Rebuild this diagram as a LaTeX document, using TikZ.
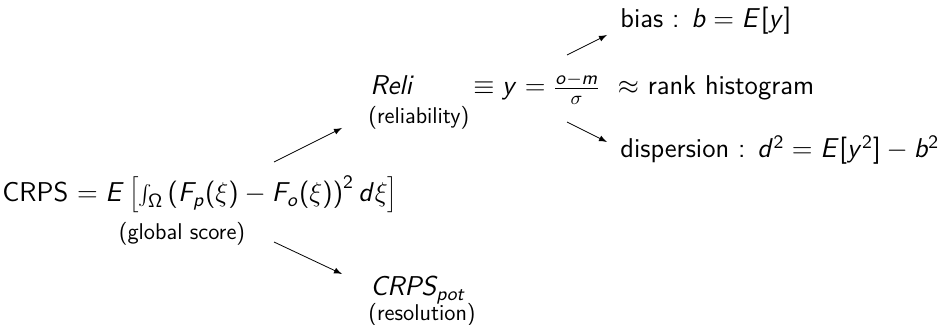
\RequirePackage{fix-cm}
\documentclass[tikz,border=0pt]{standalone}
% lettres mathematiques en sans serif (comme beamer)
\DeclareSymbolFont{sfletters}{OT1}{cmss}{m}{sl}
\SetSymbolFont{operators}{normal}{OT1}{cmss}{m}{n}
\newcount\mc
\mc=`a
\loop
  \mathcode\mc=\numexpr "7000+\symsfletters*"100+\mc\relax
  \advance\mc by 1
\ifnum\mc<\numexpr`z+1\relax\repeat
\mc=`A
\loop
  \mathcode\mc=\numexpr "7000+\symsfletters*"100+\mc\relax
  \advance\mc by 1
\ifnum\mc<\numexpr`Z+1\relax\repeat
\begin{document}
\begin{tikzpicture}[x=0.5pt,y=-0.5pt,>=latex,
  txt/.style={inner sep=0pt,anchor=base west,font=\fontsize{13.6}{16}\selectfont\sffamily},
  lab/.style={inner sep=0pt,anchor=base west,font=\fontsize{11.4}{13}\selectfont\sffamily}]
  \useasboundingbox (0,0) rectangle (941,325);
  % score global
  \node[txt] (crps) at (2,202) {CRPS $= E\left[\int_\Omega \left(F_p(\xi)-F_o(\xi)\right)^2 d\xi\right]$};
  \node[lab,anchor=base] (glob) at (182,240) {(global score)};
  % decomposition
  \node[txt] (reli) at (370,95) {$Reli$};
  \node[lab] (relilab) at (368,124) {(reliability)};
  \node[txt] (equiv) at (473,95) {$\equiv y = \frac{o-m}{\sigma}$ \ $\approx$ rank histogram};
  \node[txt] (pot) at (370,296) {$CRPS_{pot}$};
  \node[lab] (potlab) at (368,321) {(resolution)};
  \node[txt] (bias) at (620,28) {bias : $b = E[y]$};
  \node[txt] (disp) at (620,158) {dispersion : $d^2 = E[y^2]-b^2$};
  % fleches
  \coordinate (a1) at (274,162); \coordinate (b1) at (342,128);
  \coordinate (a2) at (274,242); \coordinate (b2) at (342,274);
  \coordinate (a3) at (567,55);  \coordinate (b3) at (607,35);
  \coordinate (a4) at (567,122); \coordinate (b4) at (607,142);
  \foreach \i in {1,...,4}
    \draw[->] (a\i) -- (b\i);
\end{tikzpicture}
\end{document}
